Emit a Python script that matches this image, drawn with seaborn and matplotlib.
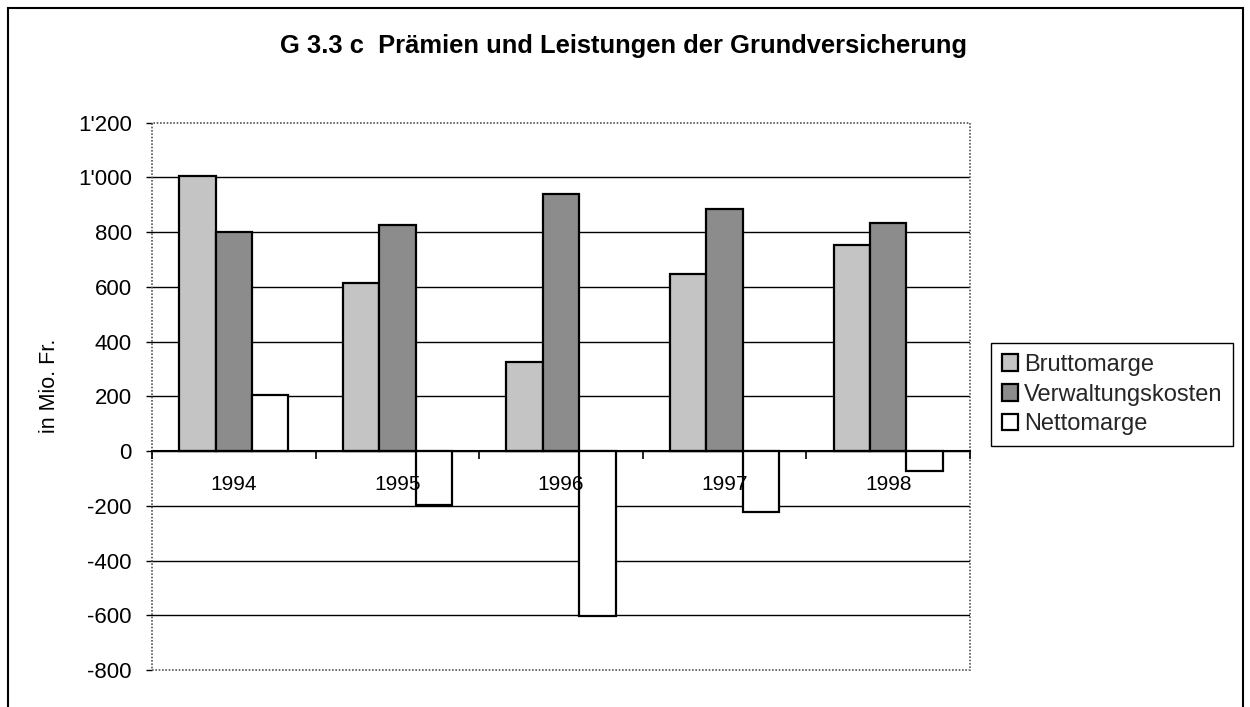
import pandas as pd
import numpy as np
import seaborn as sns
import matplotlib.pyplot as plt
from matplotlib.ticker import FuncFormatter, FixedLocator
from matplotlib.patches import Rectangle

# values (Mio. Fr.)
years = ["1994", "1995", "1996", "1997", "1998"]
series = ["Bruttomarge", "Verwaltungskosten", "Nettomarge"]
brutto = [1005, 615, 326, 648, 755]
verwaltung = [800, 825, 940, 886, 835]
netto = [206, -198, -601, -222, -73]
yticks = [-800, -600, -400, -200, 0, 200, 400, 600, 800, 1000, 1200]

df = pd.DataFrame({
    "Jahr": years * 3,
    "Serie": [s for s in series for _ in years],
    "Wert": brutto + verwaltung + netto,
})

sns.set_theme(style="white")
plt.rcParams["font.family"] = ["Liberation Sans", "DejaVu Sans"]

fig = plt.figure(figsize=(12.5, 7.07), dpi=100)
ax = fig.add_axes([0.1216, 0.0523, 0.6544, 0.7741])

palette = ["#c4c4c4", "#8c8c8c", "#ffffff"]
sns.barplot(data=df, x="Jahr", y="Wert", hue="Serie", palette=palette,
            width=0.667, edgecolor="black", linewidth=1.6, saturation=1,
            ax=ax, legend=True)

ax.set_ylim(-800, 1200)
ax.set_xlim(-0.5, 4.5)
ax.yaxis.set_major_locator(FixedLocator(yticks))
ax.yaxis.set_major_formatter(FuncFormatter(lambda v, p: f"{int(v):,}".replace(",", "'")))

# grid lines inside the plot area only, behind the bars
ax.yaxis.grid(True, color="black", linewidth=1)
ax.set_axisbelow(True)
ax.xaxis.set_zorder(5)
gl = ax.get_ygridlines()
gl[0].set_visible(False)
gl[-1].set_visible(False)

for s in ["top", "left", "right"]:
    ax.spines[s].set_visible(False)
ax.spines["bottom"].set_position(("data", 0))
ax.spines["bottom"].set_color("black")
ax.spines["bottom"].set_linewidth(1.5)
ax.spines["bottom"].set_zorder(4)
ax.add_patch(Rectangle((0, 0), 1, 1, transform=ax.transAxes, fill=False,
                       ls=(0, (1, 1)), ec="#555555", lw=1.2, clip_on=False, zorder=3))

ax.set_xticks(np.arange(-0.5, 5, 1), minor=True)
ax.tick_params(axis="x", which="major", length=0, pad=17, labelsize=15, colors="black")
ax.tick_params(axis="x", which="minor", bottom=True, direction="out", length=6,
               width=1.2, color="black")
ax.tick_params(axis="y", which="major", direction="out", length=4.5, width=1,
               color="black", left=True, labelsize=16, labelcolor="black", pad=10)

ax.set_xlabel("")
ax.set_ylabel("in Mio. Fr.", fontsize=15.5, color="black")
ax.yaxis.set_label_coords(-0.113, 0.52)

handles, labels = ax.get_legend_handles_labels()
ax.legend(handles, labels, loc="center left", bbox_to_anchor=(0.793, 0.442),
          bbox_transform=fig.transFigure, borderaxespad=0, fancybox=False,
          edgecolor="black", framealpha=1, fontsize=17, handlelength=0.7,
          handleheight=0.7, handletextpad=0.25, labelspacing=0.32,
          borderpad=0.45, title=None)
ax.get_legend().get_frame().set_linewidth(1)

fig.text(0.4985, 1 - 46 / 707, "G 3.3 c  Prämien und Leistungen der Grundversicherung",
         ha="center", va="center", fontsize=18.4, fontweight="bold", color="black")

# outer chart frame (bottom edge cut off like the scan)
fig.patches.append(Rectangle((0.0064, -0.05), 0.988, 1.0387, transform=fig.transFigure,
                             fill=False, ec="black", lw=1.5))

fig.savefig("out.png", dpi=100)
